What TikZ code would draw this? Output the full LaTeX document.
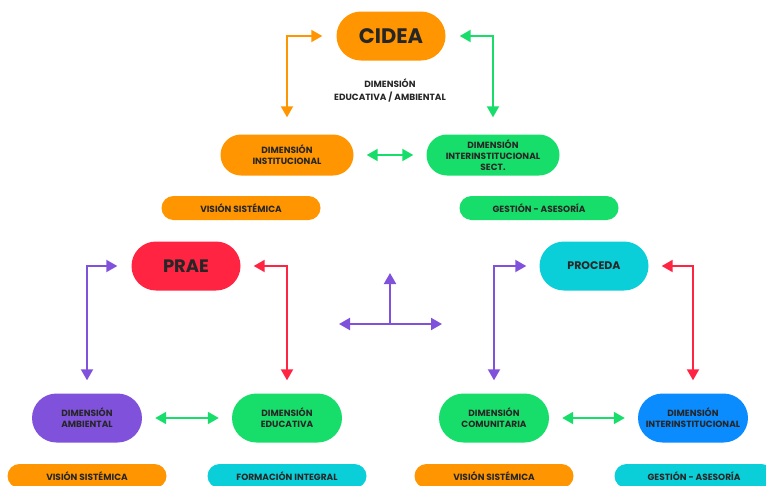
\documentclass[tikz,border=0pt]{standalone}
\usepackage{fontspec}
\setmainfont{Poppins}
\usetikzlibrary{arrows.meta}
\definecolor{cOrange}{HTML}{FF9500}
\definecolor{cGreen}{HTML}{17DE6A}
\definecolor{cRed}{HTML}{FF2442}
\definecolor{cPurple}{HTML}{8052DC}
\definecolor{cCyan}{HTML}{0ACFD9}
\definecolor{cBlue}{HTML}{0A8CFF}
\definecolor{ink}{HTML}{262626}
\tikzset{>={Triangle[length=11pt,width=12pt]},
  pill/.style={rectangle,text=ink,align=center,inner sep=0pt,font=\fontsize{9}{11}\selectfont\bfseries},
  bigpill/.style={pill,minimum width=109pt,minimum height=49pt,rounded corners=24.5pt},
  dimpill/.style={pill,minimum width=110pt,minimum height=49pt,rounded corners=24.5pt},
  toppill/.style={pill,minimum width=133pt,minimum height=41pt,rounded corners=20.5pt},
  tagpill/.style={pill,minimum width=159pt,minimum height=24pt,rounded corners=12pt},
  link/.style={line width=2pt,<->}}

\begin{document}
\begin{tikzpicture}[x=1pt,y=-1pt]
\useasboundingbox (0,0) rectangle (766,485);

\node[bigpill,fill=cOrange,font=\fontsize{21}{21}\selectfont\bfseries] (cidea) at (391,36) {CIDEA};
\node[pill,font=\fontsize{9}{13}\selectfont\bfseries] (eduamb) at (390,90) {DIMENSIÓN\\EDUCATIVA / AMBIENTAL};
\node[toppill,fill=cOrange] (dinst) at (287,155) {DIMENSIÓN\\INSTITUCIONAL};
\node[toppill,fill=cGreen] (dsect) at (493,155) {DIMENSIÓN\\INTERINSTITUCIONAL\\SECT.};
\node[tagpill,fill=cOrange] (vis1) at (241,208) {VISIÓN SISTÉMICA};
\node[tagpill,fill=cGreen] (ges1) at (539,208) {GESTIÓN - ASESORÍA};
\draw[link,cOrange,shorten <=17pt,shorten >=14pt] (dinst.north) |- (cidea.west);
\draw[link,cGreen,shorten <=17pt,shorten >=14pt] (dsect.north) |- (cidea.east);
\draw[link,cGreen,shorten <=13pt,shorten >=13pt] (dinst) -- (dsect);

\node[bigpill,fill=cRed,font=\fontsize{18}{18}\selectfont\bfseries] (prae) at (186,266) {PRAE};
\node[bigpill,fill=cCyan,font=\fontsize{11}{11}\selectfont\bfseries] (proceda) at (594,266) {PROCEDA};

\node[dimpill,fill=cPurple] (damb) at (87,418) {DIMENSIÓN\\AMBIENTAL};
\node[dimpill,fill=cGreen] (dedu) at (287,418) {DIMENSIÓN\\EDUCATIVA};
\node[dimpill,fill=cGreen] (dcom) at (494,418) {DIMENSIÓN\\COMUNITARIA};
\node[dimpill,fill=cBlue] (dinter) at (693,418) {DIMENSIÓN\\INTERINSTITUCIONAL};

\node[tagpill,fill=cOrange] (vis2) at (87,476) {VISIÓN SISTÉMICA};
\node[tagpill,fill=cCyan] (form) at (287,476) {FORMACIÓN INTEGRAL};
\node[tagpill,fill=cOrange] (vis3) at (494,476) {VISIÓN SISTÉMICA};
\node[tagpill,fill=cCyan] (ges2) at (694,476) {GESTIÓN - ASESORÍA};

\draw[link,cPurple,shorten <=13pt,shorten >=14pt] (damb.north) |- (prae.west);
\draw[link,cRed,shorten <=13pt,shorten >=13pt] (dedu.north) |- (prae.east);
\draw[link,cPurple,shorten <=13pt,shorten >=13pt] (dcom.north) |- (proceda.west);
\draw[link,cRed,shorten <=13pt,shorten >=13pt] (dinter.north) |- (proceda.east);
\draw[link,cGreen,shorten <=13pt,shorten >=13pt] (damb) -- (dedu);
\draw[link,cGreen,shorten <=13pt,shorten >=13pt] (dcom) -- (dinter);

% centre cross
\coordinate (hub) at (390,324);
\coordinate (hubL) at (339,324);
\coordinate (hubR) at (442,324);
\coordinate (hubT) at (390,273);
\draw[link,cPurple] (hubL) -- (hubR);
\draw[line width=2pt,->,cPurple] (hub) -- (hubT);

\end{tikzpicture}
\end{document}
